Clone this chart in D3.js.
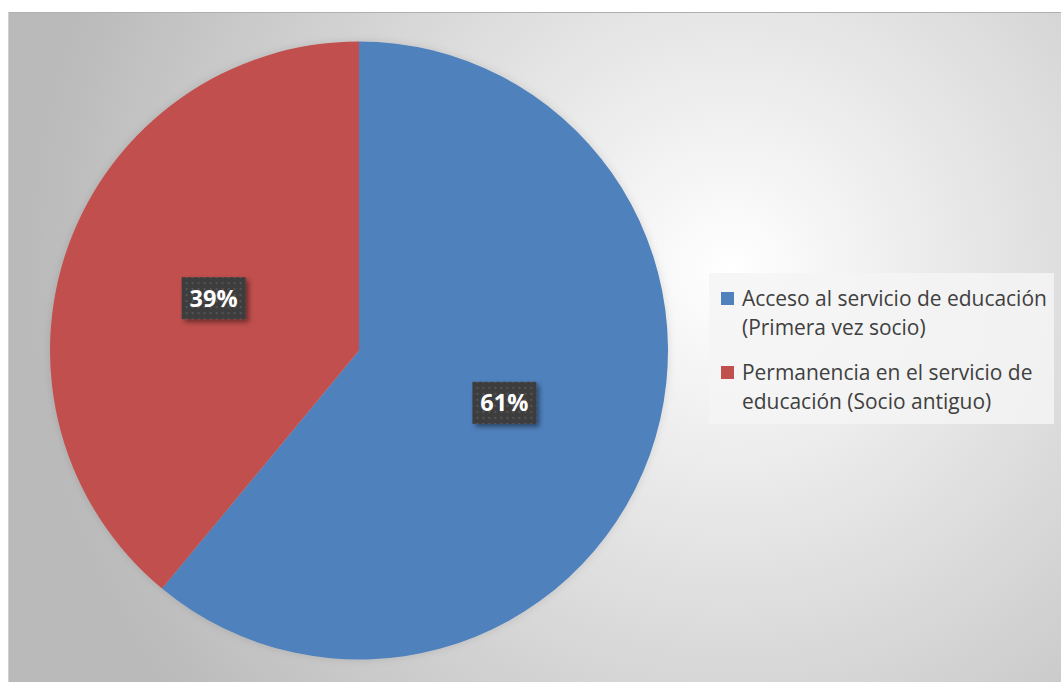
<!DOCTYPE html>
<html>
<head>
<meta charset="utf-8">
<script src="https://cdn.jsdelivr.net/npm/d3@7"></script>
<style>
  body { margin: 0; background: #fff; }
  svg { display: block; }
</style>
</head>
<body>
<svg id="chart"></svg>
<script>
// chart values
const categories = ["Acceso al servicio de educación (Primera vez socio)", "Permanencia en el servicio de educación (Socio antiguo)"];
const legendLines = [["Acceso al servicio de educación", "(Primera vez socio)"], ["Permanencia en el servicio de", "educación (Socio antiguo)"]];
const values = [61, 39];
const labels = ["61%", "39%"];
const colors = ["#4f81bd", "#c0504d"];

const W = 1061, H = 682;
const svg = d3.select("#chart").attr("width", W).attr("height", H);
const defs = svg.append("defs");

// background gradient of the chart area
const bg = defs.append("radialGradient").attr("id", "bg")
  .attr("gradientUnits", "userSpaceOnUse")
  .attr("cx", 730).attr("cy", 270).attr("r", 700);
bg.append("stop").attr("offset", "0%").attr("stop-color", "#ffffff");
bg.append("stop").attr("offset", "100%").attr("stop-color", "#bababa");

// dotted fill for the data labels
const pat = defs.append("pattern").attr("id", "dots")
  .attr("patternUnits", "userSpaceOnUse").attr("width", 6).attr("height", 6);
pat.append("rect").attr("width", 6).attr("height", 6).attr("fill", "#3d3d3d");
pat.append("rect").attr("x", 2).attr("y", 2).attr("width", 2).attr("height", 2).attr("fill", "#555555");

const sh = defs.append("filter").attr("id", "shadow")
  .attr("x", "-30%").attr("y", "-30%").attr("width", "160%").attr("height", "160%");
sh.append("feDropShadow").attr("dx", 3).attr("dy", 3).attr("stdDeviation", 2.5)
  .attr("flood-color", "#000").attr("flood-opacity", 0.45);

const glow = defs.append("filter").attr("id", "glow")
  .attr("x", "-10%").attr("y", "-10%").attr("width", "120%").attr("height", "120%");
glow.append("feDropShadow").attr("dx", 0).attr("dy", 0).attr("stdDeviation", 4)
  .attr("flood-color", "#000").attr("flood-opacity", 0.12);

// chart area frame
svg.append("rect").attr("x", 8).attr("y", 12).attr("width", W).attr("height", H)
  .attr("fill", "url(#bg)");
svg.append("line").attr("x1", 8).attr("x2", W).attr("y1", 12.5).attr("y2", 12.5)
  .attr("stroke", "#b0b0b0").attr("stroke-width", 1);
svg.append("line").attr("x1", 8.5).attr("x2", 8.5).attr("y1", 12).attr("y2", H)
  .attr("stroke", "#d0d0d0").attr("stroke-width", 1);

// pie
const cx = 359, cy = 350.5, r = 309;
const pie = d3.pie().sort(null).value(d => d);
const arc = d3.arc().innerRadius(0).outerRadius(r);
const arcs = pie(values);

const g = svg.append("g").attr("transform", "translate(" + cx + "," + cy + ")");
g.append("g").attr("filter", "url(#glow)")
  .selectAll("path")
  .data(arcs)
  .join("path")
  .attr("d", arc)
  .attr("fill", (d, i) => colors[i]);

// data labels
const lab = g.selectAll(".lab").data(arcs).join("g")
  .attr("class", "lab")
  .attr("transform", d => "translate(" + arc.centroid(d) + ")");
lab.append("rect").attr("x", -32).attr("y", -21).attr("width", 64).attr("height", 42)
  .attr("fill", "url(#dots)").attr("filter", "url(#shadow)");
lab.append("text").attr("text-anchor", "middle").attr("dy", "0.36em")
  .attr("fill", "#ffffff").attr("font-family", "'Open Sans', sans-serif")
  .attr("font-weight", "bold").attr("font-size", 23.5)
  .text((d, i) => labels[i]);

// legend
const lg = svg.append("g");
lg.append("rect").attr("x", 709).attr("y", 273).attr("width", 345).attr("height", 151)
  .attr("fill", "#f4f4f4").attr("fill-opacity", 0.85);

const items = lg.selectAll(".item").data(categories).join("g").attr("class", "item")
  .attr("transform", (d, i) => "translate(0," + (i * 74) + ")");
items.append("rect").attr("x", 721).attr("y", 292).attr("width", 13).attr("height", 13)
  .attr("fill", (d, i) => colors[i]);
const txt = items.append("text").attr("x", 742).attr("y", 306)
  .attr("fill", "#404040").attr("font-family", "'Open Sans', sans-serif")
  .attr("font-size", 20);
txt.selectAll("tspan").data((d, i) => legendLines[i]).join("tspan")
  .attr("x", 742).attr("dy", (d, j) => j === 0 ? 0 : 29)
  .text(d => d);

// fit the first legend line to the measured width in the picture
const firstLine = txt.select("tspan").node();
const w = firstLine.getComputedTextLength();
const fs = 20 * 305 / w;
txt.attr("font-size", fs);
</script>
</body>
</html>
